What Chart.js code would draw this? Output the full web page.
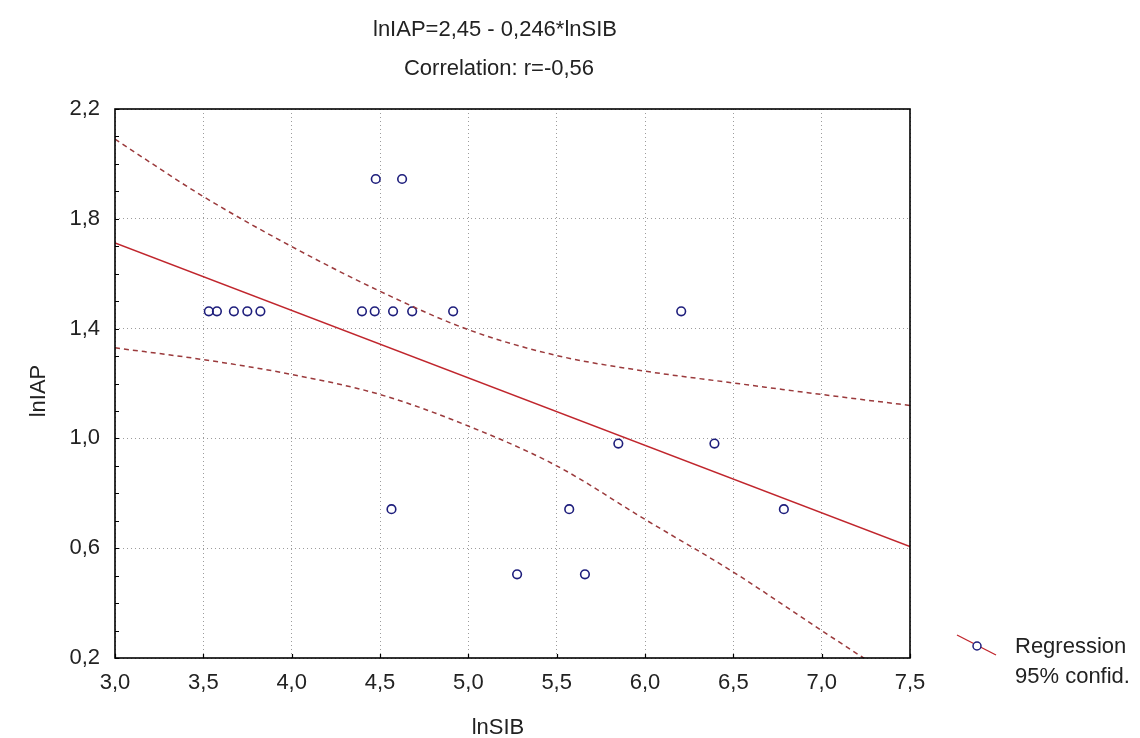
<!DOCTYPE html>
<html>
<head>
<meta charset="utf-8">
<script src="https://cdn.jsdelivr.net/npm/chart.js@4.4.1/dist/chart.umd.min.js"></script>
<style>
  html, body { margin: 0; padding: 0; background: #ffffff; }
  #wrap { width: 1140px; height: 738px; position: relative; }
</style>
</head>
<body>
<div id="wrap"><canvas id="c" width="1140" height="738"></canvas></div>
<script>
// ---- data ----
const titleLines = ['lnIAP=2,45 - 0,246*lnSIB', 'Correlation: r=-0,56'];
const xAxisTitle = 'lnSIB';
const yAxisTitle = 'lnIAP';
const legendLabels = ['Regression', '95% confid.'];

const xTickLabels = ['3,0', '3,5', '4,0', '4,5', '5,0', '5,5', '6,0', '6,5', '7,0', '7,5'];
const yTickLabels = ['0,2', '0,6', '1,0', '1,4', '1,8', '2,2'];

// observed points (lnSIB, lnIAP)
const pointX = [3.531, 3.577, 3.673, 3.749, 3.823, 4.398, 4.470, 4.574, 4.682, 4.914, 6.205,
                4.476, 4.625,
                5.849, 6.393,
                4.565, 5.571, 6.786,
                5.276, 5.660];
const pointY = [1.463, 1.463, 1.463, 1.463, 1.463, 1.463, 1.463, 1.463, 1.463, 1.463, 1.463,
                1.945, 1.945,
                0.981, 0.981,
                0.742, 0.742, 0.742,
                0.505, 0.505];

// regression line end points
const regX = [3.0, 7.5];
const regY = [1.712, 0.606];

// 95% confidence band, read at these x positions
const bandX = [3.0, 3.5, 4.0, 4.5, 5.0, 5.5, 6.0, 6.5, 7.0, 7.5];
const upperY = [2.090, 1.881, 1.699, 1.536, 1.396, 1.302, 1.245, 1.202, 1.160, 1.120];
const lowerY = [1.330, 1.287, 1.233, 1.160, 1.045, 0.900, 0.705, 0.513, 0.300, 0.090];

// ---- helpers ----
const zip = (xs, ys) => xs.map((x, i) => ({ x: x, y: ys[i] }));
const FONT = '"Liberation Sans", Arial, "DejaVu Sans", sans-serif';
const TEXT = '#222222';
const RED = '#c0262d';
const BAND = '#9b3a3c';
const NAVY = '#1e1e7c';
const GRID = '#9c9c9c';

const decorPlugin = {
  id: 'decor',
  afterDatasetsDraw(chart) {
    const ctx = chart.ctx;
    const a = chart.chartArea;
    const xs = chart.scales.x, ys = chart.scales.y;
    ctx.save();
    ctx.setLineDash([]);
    // frame
    ctx.strokeStyle = '#000000';
    ctx.lineWidth = 1.6;
    ctx.strokeRect(a.left, a.top, a.right - a.left, a.bottom - a.top);
    // inward minor ticks on y axis (every 0.1)
    ctx.lineWidth = 1.2;
    ctx.beginPath();
    for (let k = 0; k <= 20; k++) {
      const v = 0.2 + k * 0.1;
      const py = Math.round(ys.getPixelForValue(v)) + 0.5;
      ctx.moveTo(a.left, py);
      ctx.lineTo(a.left + 4, py);
    }
    // inward ticks on x axis at major positions
    xs.ticks.forEach(t => {
      const px = Math.round(xs.getPixelForValue(t.value)) + 0.5;
      ctx.moveTo(px, a.bottom);
      ctx.lineTo(px, a.bottom - 4);
    });
    ctx.stroke();
    ctx.restore();
  },
  afterDraw(chart) {
    const ctx = chart.ctx;
    ctx.save();
    ctx.fillStyle = TEXT;
    ctx.font = '22px ' + FONT;
    ctx.textAlign = 'center';
    ctx.textBaseline = 'alphabetic';
    // titles
    ctx.fillText(titleLines[0], 495, 36);
    ctx.fillText(titleLines[1], 499, 75);
    // x axis title
    ctx.fillText(xAxisTitle, 498, 734);
    // y axis title
    ctx.save();
    ctx.translate(45, 391);
    ctx.rotate(-Math.PI / 2);
    ctx.fillText(yAxisTitle, 0, 0);
    ctx.restore();
    // legend
    ctx.strokeStyle = RED;
    ctx.lineWidth = 1.4;
    ctx.beginPath();
    ctx.moveTo(957, 635);
    ctx.lineTo(996, 655);
    ctx.stroke();
    ctx.fillStyle = '#ffffff';
    ctx.strokeStyle = NAVY;
    ctx.lineWidth = 1.5;
    ctx.beginPath();
    ctx.arc(977, 646, 4, 0, Math.PI * 2);
    ctx.fill();
    ctx.stroke();
    ctx.fillStyle = TEXT;
    ctx.textAlign = 'left';
    ctx.fillText(legendLabels[0], 1015, 653);
    ctx.fillText(legendLabels[1], 1015, 683);
    ctx.restore();
  }
};

new Chart(document.getElementById('c'), {
  type: 'scatter',
  data: {
    datasets: [
      {
        label: 'upper',
        data: zip(bandX, upperY),
        showLine: true,
        borderColor: BAND,
        borderWidth: 1.5,
        borderDash: [5, 4],
        pointRadius: 0,
        fill: false,
        cubicInterpolationMode: 'monotone'
      },
      {
        label: 'lower',
        data: zip(bandX, lowerY),
        showLine: true,
        borderColor: BAND,
        borderWidth: 1.5,
        borderDash: [5, 4],
        pointRadius: 0,
        fill: false,
        cubicInterpolationMode: 'monotone'
      },
      {
        label: 'Regression',
        data: zip(regX, regY),
        showLine: true,
        borderColor: RED,
        borderWidth: 1.6,
        pointRadius: 0,
        fill: false
      },
      {
        label: 'points',
        data: zip(pointX, pointY),
        showLine: false,
        pointStyle: 'circle',
        pointRadius: 4.3,
        pointBorderWidth: 1.6,
        pointBorderColor: NAVY,
        pointBackgroundColor: 'rgba(255,255,255,0)'
      }
    ]
  },
  options: {
    responsive: false,
    animation: false,
    events: [],
    layout: { padding: { top: 109, right: 230, left: 0, bottom: 0 } },
    plugins: {
      legend: { display: false },
      title: { display: false },
      tooltip: { enabled: false }
    },
    scales: {
      x: {
        type: 'linear',
        min: 3.0,
        max: 7.5,
        ticks: {
          stepSize: 0.5,
          padding: 12,
          color: TEXT,
          font: { family: FONT, size: 22 },
          callback: (v, i) => xTickLabels[i]
        },
        grid: {
          drawTicks: false,
          color: GRID,
          lineWidth: 1
        },
        border: { display: false, dash: [1, 3] },
        afterFit: s => { s.height = 80; }
      },
      y: {
        type: 'linear',
        min: 0.2,
        max: 2.2,
        ticks: {
          stepSize: 0.4,
          padding: 15,
          color: TEXT,
          font: { family: FONT, size: 22 },
          callback: (v, i) => yTickLabels[i]
        },
        grid: {
          drawTicks: false,
          color: GRID,
          lineWidth: 1
        },
        border: { display: false, dash: [1, 3] },
        afterFit: s => { s.width = 115; }
      }
    }
  },
  plugins: [decorPlugin]
});
</script>
</body>
</html>
